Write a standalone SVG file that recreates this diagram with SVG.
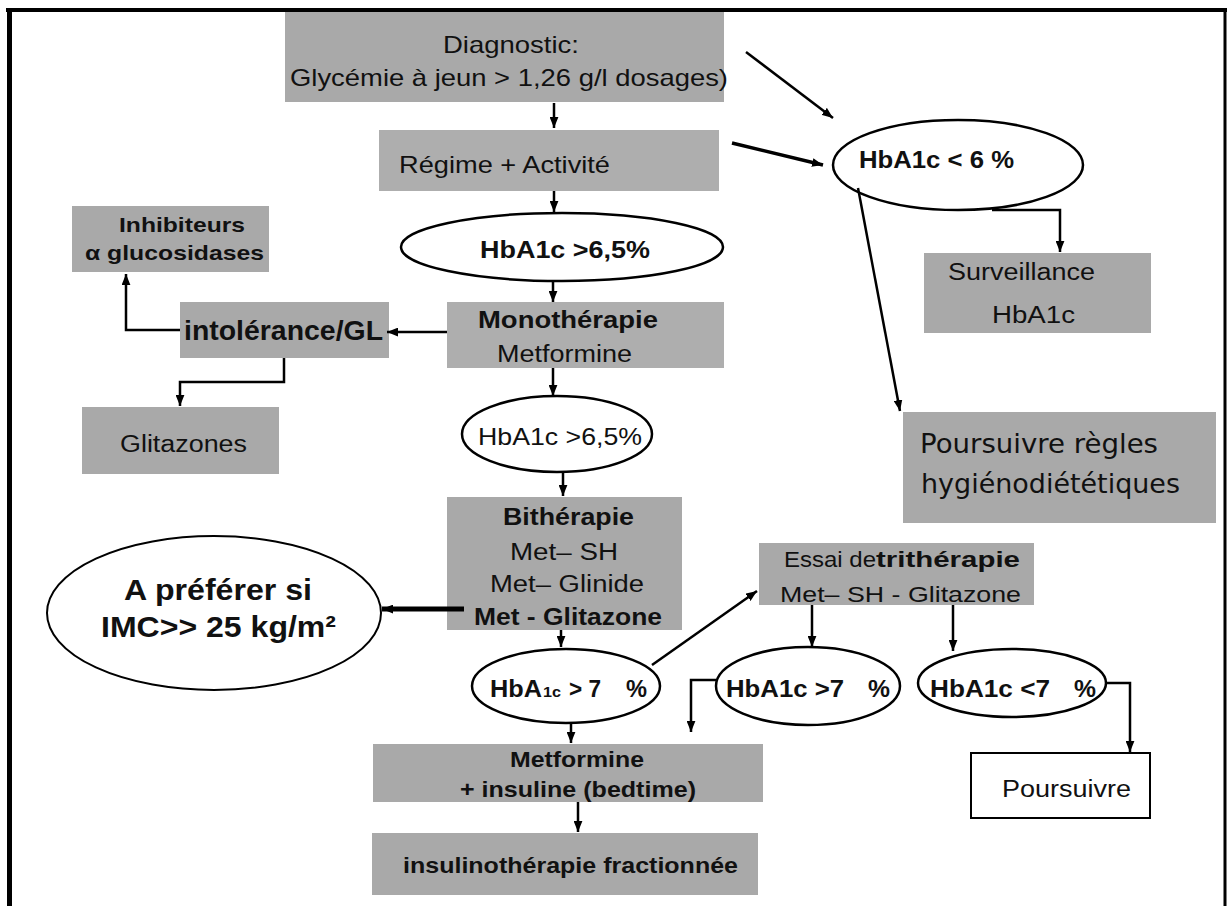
<svg xmlns="http://www.w3.org/2000/svg" width="1228" height="906" viewBox="0 0 1228 906">
<style>
.t{font-family:"Liberation Sans",Arial,sans-serif;fill:#111;}
.b{font-weight:bold;}
.c{font-family:"Comic Sans MS","DejaVu Sans",sans-serif;fill:#111;}
.box{fill:#a9a9a9;}
.lt{fill:#aeaeae;}
.el{fill:#fff;stroke:#000;stroke-width:2.5;}
.cn{fill:none;stroke:#000;stroke-width:2.5;marker-end:url(#ah);}
</style>
<defs>
<marker id="ah" viewBox="0 0 10 8" refX="10" refY="4" markerWidth="11" markerHeight="9" markerUnits="userSpaceOnUse" orient="auto">
<path d="M0,0 L10,4 L0,8 z" fill="#000"/>
</marker>
</defs>
<rect width="1228" height="906" fill="#fff"/>
<g id="frame" stroke="#000" fill="none">
<line x1="6" y1="10" x2="1227" y2="10" stroke-width="4"/>
<line x1="9.5" y1="8" x2="9.5" y2="906" stroke-width="5"/>
<line x1="1225" y1="8" x2="1225" y2="906" stroke-width="3"/>
</g>
<g id="n-diagnostic"><rect class="box" x="285" y="12" width="439" height="90"/>
<text class="t" x="443" y="53" font-size="24" textLength="136" lengthAdjust="spacingAndGlyphs">Diagnostic:</text>
<text class="t" x="290" y="86" font-size="24" textLength="438" lengthAdjust="spacingAndGlyphs">Glycémie à jeun &gt; 1,26 g/l dosages)</text></g>
<g id="n-regime"><rect class="lt" x="379" y="130" width="340" height="61"/>
<text class="t" x="399" y="173" font-size="24" textLength="211" lengthAdjust="spacingAndGlyphs">Régime + Activité</text></g>
<g id="n-hba1c-65a"><ellipse class="el" cx="562" cy="247" rx="161" ry="34"/>
<text class="t b" x="480" y="258" font-size="24" textLength="170" lengthAdjust="spacingAndGlyphs">HbA1c &gt;6,5%</text></g>
<g id="n-inhibiteurs"><rect class="box" x="72" y="206" width="197" height="66"/>
<text class="t b" x="119" y="232" font-size="21" textLength="126" lengthAdjust="spacingAndGlyphs">Inhibiteurs</text>
<text class="t b" x="85" y="260" font-size="21" textLength="179" lengthAdjust="spacingAndGlyphs">α glucosidases</text></g>
<g id="n-intolerance"><rect class="box" x="180" y="302" width="209" height="56"/>
<text class="t b" x="184" y="340" font-size="27" textLength="199" lengthAdjust="spacingAndGlyphs">intolérance/GL</text></g>
<g id="n-mono"><rect class="lt" x="447" y="302" width="277" height="66"/>
<text class="t b" x="478" y="328" font-size="23" textLength="180" lengthAdjust="spacingAndGlyphs">Monothérapie</text>
<text class="t" x="497" y="362" font-size="23" textLength="135" lengthAdjust="spacingAndGlyphs">Metformine</text></g>
<g id="n-glitazones"><rect class="box" x="82" y="407" width="197" height="67"/>
<text class="t" x="120" y="452" font-size="23" textLength="127" lengthAdjust="spacingAndGlyphs">Glitazones</text></g>
<g id="n-hba1c-65b"><ellipse class="el" cx="557" cy="434" rx="95" ry="38"/>
<text class="t" x="478" y="445" font-size="24" textLength="164" lengthAdjust="spacingAndGlyphs">HbA1c &gt;6,5%</text></g>
<g id="n-bitherapie"><rect class="box" x="447" y="497" width="235" height="133"/>
<text class="t b" x="503" y="525" font-size="23" textLength="131" lengthAdjust="spacingAndGlyphs">Bithérapie</text>
<text class="t" x="510" y="560" font-size="23" textLength="108" lengthAdjust="spacingAndGlyphs">Met– SH</text>
<text class="t" x="490" y="592" font-size="23" textLength="154" lengthAdjust="spacingAndGlyphs">Met– Glinide</text>
<text class="t b" x="474" y="625" font-size="23" textLength="188" lengthAdjust="spacingAndGlyphs">Met - Glitazone</text></g>
<g id="n-preferer"><ellipse class="el" cx="214" cy="613" rx="167" ry="77" style="stroke-width:2"/>
<text class="t b" x="124" y="600" font-size="30" textLength="188" lengthAdjust="spacingAndGlyphs">A préférer si</text>
<text class="t b" x="101" y="637" font-size="30" textLength="235" lengthAdjust="spacingAndGlyphs">IMC&gt;&gt; 25 kg/m²</text></g>
<g id="n-hba1c-7a"><ellipse class="el" cx="566" cy="686" rx="94" ry="37"/>
<text class="t b" y="697" font-size="24"><tspan x="490" textLength="52" lengthAdjust="spacingAndGlyphs">HbA</tspan><tspan x="543" font-size="15" textLength="18" lengthAdjust="spacingAndGlyphs">1c</tspan><tspan x="569" textLength="32" lengthAdjust="spacingAndGlyphs">&gt; 7</tspan><tspan x="626" textLength="21" lengthAdjust="spacingAndGlyphs">%</tspan></text></g>
<g id="n-metformine-insuline"><rect class="box" x="373" y="744" width="390" height="58"/>
<text class="t b" x="510" y="767" font-size="22" textLength="134" lengthAdjust="spacingAndGlyphs">Metformine</text>
<text class="t b" x="460" y="797" font-size="22" textLength="236" lengthAdjust="spacingAndGlyphs">+ insuline (bedtime)</text></g>
<g id="n-insulinotherapie"><rect class="box" x="372" y="833" width="386" height="62"/>
<text class="t b" x="403" y="873" font-size="22" textLength="335" lengthAdjust="spacingAndGlyphs">insulinothérapie fractionnée</text></g>
<g id="n-hba1c-6"><ellipse class="el" cx="958" cy="165" rx="125" ry="45"/>
<text class="t b" x="859" y="168" font-size="24" textLength="155" lengthAdjust="spacingAndGlyphs">HbA1c &lt; 6 %</text></g>
<g id="n-surveillance"><rect class="box" x="924" y="253" width="227" height="80"/>
<text class="t" x="948" y="280" font-size="23" textLength="147" lengthAdjust="spacingAndGlyphs">Surveillance</text>
<text class="t" x="992" y="323" font-size="23" textLength="83" lengthAdjust="spacingAndGlyphs">HbA1c</text></g>
<g id="n-poursuivre-regles"><rect class="box" x="903" y="412" width="313" height="111"/>
<text class="c" x="920" y="453" font-size="27" textLength="238" lengthAdjust="spacingAndGlyphs">Poursuivre règles</text>
<text class="c" x="921" y="493" font-size="27" textLength="259" lengthAdjust="spacingAndGlyphs">hygiénodiététiques</text></g>
<g id="n-essai"><rect class="box" x="759" y="543" width="275" height="62"/>
<text class="t" y="567" font-size="22"><tspan x="784" textLength="92" lengthAdjust="spacingAndGlyphs">Essai de</tspan><tspan x="876" font-weight="bold" textLength="144" lengthAdjust="spacingAndGlyphs">trithérapie</tspan></text>
<text class="t" x="780" y="602" font-size="22" textLength="241" lengthAdjust="spacingAndGlyphs">Met– SH - Glitazone</text></g>
<g id="n-hba1c-7b"><ellipse class="el" cx="808" cy="686" rx="92" ry="39"/>
<text class="t b" y="697" font-size="24"><tspan x="726" textLength="118" lengthAdjust="spacingAndGlyphs">HbA1c &gt;7</tspan><tspan x="868" textLength="22" lengthAdjust="spacingAndGlyphs">%</tspan></text></g>
<g id="n-hba1c-7c"><ellipse class="el" cx="1012" cy="683" rx="94" ry="34"/>
<text class="t b" y="697" font-size="24"><tspan x="930" textLength="120" lengthAdjust="spacingAndGlyphs">HbA1c &lt;7</tspan><tspan x="1074" textLength="22" lengthAdjust="spacingAndGlyphs">%</tspan></text></g>
<g id="n-poursuivre"><rect x="971" y="753" width="179" height="65" fill="#fff" stroke="#000" stroke-width="2"/>
<text class="t" x="1002" y="797" font-size="23" textLength="129" lengthAdjust="spacingAndGlyphs">Poursuivre</text></g>
<g id="connectors">
<path class="cn" d="M554,103 V128"/>
<path class="cn" d="M554,191 V212"/>
<path class="cn" d="M553,282 V302"/>
<path class="cn" d="M553,368 V396"/>
<path class="cn" d="M563,472 V496"/>
<path class="cn" d="M561,630 V647"/>
<path class="cn" d="M571,723 V743"/>
<path class="cn" d="M578,802 V832"/>
<path class="cn" d="M447,332 H387"/>
<path class="cn" d="M180,330 H126 V274"/>
<path class="cn" d="M284,358 V382 H180 V406"/>
<path class="cn" d="M464,609 H382" style="stroke-width:5"/>
<path class="cn" d="M652,665 L757,591"/>
<path class="cn" d="M812,605 V647"/>
<path class="cn" d="M953,605 V651"/>
<path class="cn" d="M716,680 H691 V732"/>
<path class="cn" d="M1106,683 H1130 V752"/>
<path class="cn" d="M746,52 L833,118"/>
<path class="cn" d="M732,143 L823,165" style="stroke-width:3.5"/>
<path class="cn" d="M992,210 H1060 V252"/>
<path class="cn" d="M858,188 L900,411"/>
</g>
</svg>
